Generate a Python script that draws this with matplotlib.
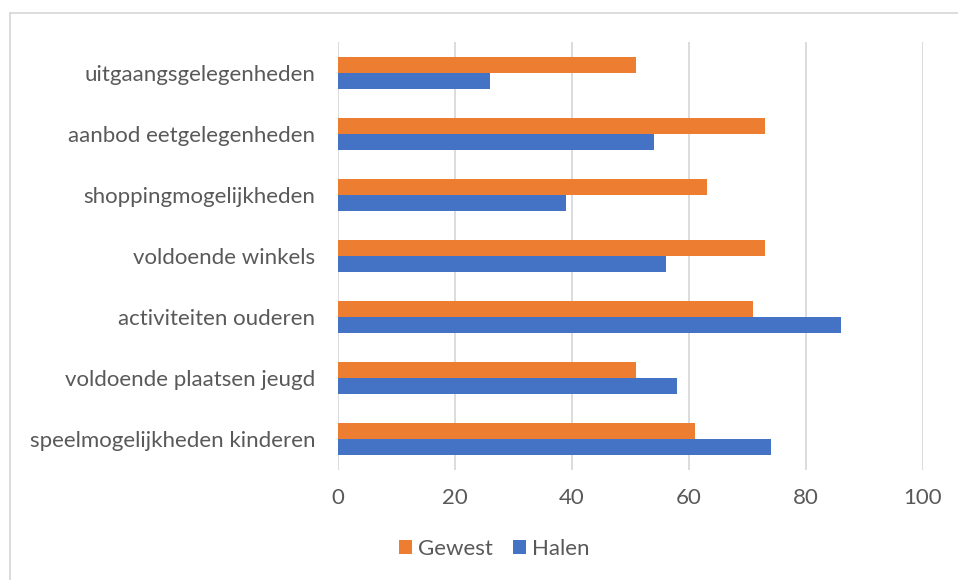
import numpy as np
import matplotlib.pyplot as plt
from matplotlib.lines import Line2D

categories = ["uitgaangsgelegenheden", "aanbod eetgelegenheden", "shoppingmogelijkheden",
              "voldoende winkels", "activiteiten ouderen", "voldoende plaatsen jeugd",
              "speelmogelijkheden kinderen"]
gewest = [51, 73, 63, 73, 71, 51, 61]
halen = [26, 54, 39, 56, 86, 58, 74]
xticks = [0, 20, 40, 60, 80, 100]

plt.rcParams['font.family'] = ['Lato', 'DejaVu Sans']
txt = '#595959'
grid = '#d9d9d9'

fig = plt.figure(figsize=(9.58, 5.80), dpi=100)
ax = fig.add_axes([338 / 958, 1 - 470 / 580, (923 - 338) / 958, (470 - 42) / 580])

y = np.arange(len(categories))[::-1]
h = 0.262
ax.barh(y + h / 2, gewest, height=h, color='#ed7d31', label='Gewest', zorder=3)
ax.barh(y - h / 2, halen, height=h, color='#4472c4', label='Halen', zorder=3)

ax.set_xlim(0, 100)
ax.set_ylim(-0.5, len(categories) - 0.5)
ax.set_xticks(xticks)
ax.set_yticks(y)
ax.set_yticklabels(categories)
ax.tick_params(length=0, labelsize=16, colors=txt)
ax.tick_params(axis='y', pad=16.5)
ax.tick_params(axis='x', pad=13)
ax.xaxis.grid(True, color=grid, linewidth=1.3, zorder=0)
for s in ax.spines.values():
    s.set_visible(False)

ax.legend(loc='center', bbox_to_anchor=(494 / 958, 1 - 549 / 580), bbox_transform=fig.transFigure,
          ncol=2, frameon=False, fontsize=16, labelcolor=txt, handlelength=0.6,
          handleheight=0.6, handletextpad=0.25, columnspacing=0.9)

# outer chart border (left and top edges visible)
fig.add_artist(Line2D([9.5 / 958, 9.5 / 958], [0, 1 - 13 / 580], color=grid, linewidth=1.3))
fig.add_artist(Line2D([9.5 / 958, 1], [1 - 13 / 580, 1 - 13 / 580], color=grid, linewidth=1.3))

fig.savefig('out.png', dpi=100)
